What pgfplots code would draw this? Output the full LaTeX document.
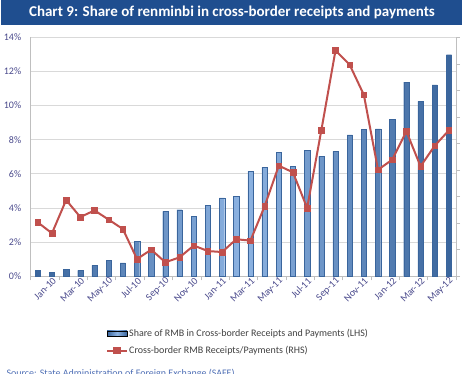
\documentclass[border=0pt]{standalone}
\usepackage{fontspec}
\setmainfont{Carlito}
\usepackage{pgfplots}
\usepackage{pgfplotstable}
\pgfplotsset{compat=1.18}
\definecolor{banner}{HTML}{1F4E8F}
\definecolor{barblue}{HTML}{4F81BD}
\definecolor{bardark}{HTML}{3A659C}
\definecolor{barlight}{HTML}{8DB3E2}
\definecolor{linered}{HTML}{C0504D}
\definecolor{ticktxt}{HTML}{4A4A8C}
\definecolor{gridgray}{HTML}{D9D9D9}
\definecolor{axisgray}{HTML}{BFBFBF}
\definecolor{srcblue}{HTML}{4F6FB5}
\definecolor{legtxt}{HTML}{404040}

\pgfplotstableread{
idx share rhs
0 0.35 3.16
1 0.23 2.52
2 0.39 4.47
3 0.35 3.47
4 0.64 3.86
5 0.94 3.32
6 0.78 2.77
7 2.05 1.01
8 1.45 1.56
9 3.80 0.82
10 3.90 1.11
11 3.51 1.80
12 4.16 1.48
13 4.59 1.42
14 4.68 2.17
15 6.15 2.09
16 6.38 4.10
17 7.26 6.48
18 6.44 6.09
19 7.38 4.00
20 7.02 8.55
21 7.32 13.23
22 8.29 12.39
23 8.62 10.63
24 8.64 6.24
25 9.21 6.83
26 11.38 8.49
27 10.24 6.44
28 11.22 7.65
29 12.98 8.55
}\datatable

\pgfplotsset{
  common/.style={
    at={(30.7pt,-276.3pt)}, anchor=south west,
    scale only axis, width=425.3pt, height=239pt,
    xmin=-0.5, xmax=29.5, ymin=0, ymax=14,
    axis line style={draw=axisgray},
    tick style={draw=axisgray, line width=0.6pt},
    tick align=outside,
  }
}

\begin{document}
\begin{tikzpicture}
\fill[banner] (1pt,0pt) rectangle (462pt,-25pt);
\node[text=white, font=\fontsize{15}{18}\selectfont\bfseries] at (232pt,-12.5pt)
  {Chart 9: Share of renminbi in cross-border receipts and payments};

\begin{axis}[common,
  axis x line*=bottom, axis y line*=left,
  major tick length=0pt, minor tick length=4pt,
  ytick={0,2,...,14},
  ymajorgrids, grid style={draw=gridgray, line width=0.8pt},
  /pgf/number format/assume math mode=true,
  yticklabel={\pgfmathprintnumber{\tick}\%},
  yticklabel style={text=ticktxt, font=\fontsize{10}{12}\selectfont, xshift=-6pt},
  xtick={1,3,...,29},
  xticklabels={Jan-10,Mar-10,May-10,Jul-10,Sep-10,Nov-10,Jan-11,Mar-11,May-11,Jul-11,Sep-11,Nov-11,Jan-12,Mar-12,May-12},
  minor xtick={-0.5,1.5,...,29.5},
  xticklabel style={rotate=45, anchor=east, text=ticktxt,
       font=\fontsize{10}{12}\selectfont, xshift=3pt, yshift=-4pt},
]
\addplot[ybar, bar width=5.3pt, draw=bardark, line width=0.3pt,
   left color=bardark, right color=bardark, middle color=barlight]
   table[x=idx, y=share] {\datatable};
\end{axis}

\begin{axis}[common,
  axis x line=none, axis y line*=right,
  major tick length=4pt,
  ytick={0,1.5556,3.1111,4.6667,6.2222,7.7778,9.3333,10.8889,12.4444,14},
  yticklabels={},
  legend style={at={(0.177,-0.215)}, anchor=north west, draw=none, fill=none,
     font=\fontsize{10}{12}\selectfont, text=legtxt, row sep=6.5pt,
     inner sep=0pt, nodes={inner sep=1pt}},
  legend cell align=left,
]
\addlegendimage{legend image code/.code={
  \fill[left color=bardark, right color=bardark, middle color=barlight, shading angle=90]
     (0pt,-2.5pt) rectangle (20pt,2.5pt);}}
\addlegendentry{Share of RMB in Cross-border Receipts and Payments (LHS)}
\addplot[color=linered, line width=2pt, mark=square*, mark size=2.8pt,
   mark options={fill=linered, line width=0.5pt},
   legend image code/.code={
     \draw[linered, line width=2pt] (0pt,0pt) -- (20pt,0pt);
     \fill[linered] (7pt,-2.8pt) rectangle (12.6pt,2.8pt);}]
   table[x=idx, y=rhs] {\datatable};
\addlegendentry{Cross-border RMB Receipts/Payments (RHS)}
\end{axis}

\node[anchor=base west, text=srcblue, font=\fontsize{10}{12}\selectfont] at (3pt,-377pt)
  {Source: State Administration of Foreign Exchange (SAFE)};

\pgfresetboundingbox
\path (0pt,0pt) rectangle (464pt,-374pt);
\end{tikzpicture}
\end{document}
